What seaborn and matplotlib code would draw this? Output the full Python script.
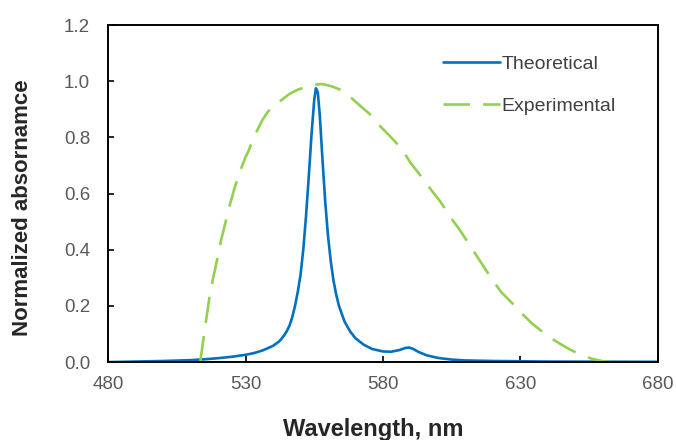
import pandas as pd
import matplotlib
matplotlib.use('Agg')
import matplotlib.pyplot as plt
import seaborn as sns

# --- Dados ---
theo_wl = [480, 500, 510, 515, 520, 525, 530, 533, 536, 538, 540, 542, 543, 544,
           545, 546, 547, 548, 549, 550, 551, 552, 553, 554, 555, 555.6, 556.3,
           557, 558, 559, 560, 561, 562, 563, 564, 566, 568, 570, 573, 576, 580,
           583, 586, 588, 589.5, 591, 593, 596, 600, 605, 610, 620, 640, 680]
theo_abs = [0.0, 0.004, 0.007, 0.010, 0.014, 0.019, 0.026, 0.032, 0.041, 0.049,
            0.058, 0.072, 0.082, 0.095, 0.110, 0.130, 0.160, 0.200, 0.250, 0.310,
            0.400, 0.520, 0.660, 0.810, 0.935, 0.975, 0.960, 0.880, 0.720, 0.570,
            0.450, 0.360, 0.290, 0.240, 0.200, 0.145, 0.110, 0.085, 0.062, 0.047,
            0.038, 0.037, 0.043, 0.050, 0.052, 0.047, 0.036, 0.024, 0.015, 0.009,
            0.006, 0.004, 0.002, 0.001]

exp_wl = [513.5, 514.5, 515.5, 517, 518, 520, 521, 523, 524, 526, 527, 528, 530,
          531, 533, 534, 536, 538, 540, 542, 544, 546, 549, 552, 555, 558, 561,
          565, 568, 572, 575, 579, 583, 587, 590, 594, 597, 601, 605, 608, 612,
          616, 620, 623, 627, 630, 634, 638, 642, 645, 648, 652, 656, 660, 663,
          671]
exp_abs = [0.0, 0.07, 0.14, 0.24, 0.29, 0.38, 0.43, 0.51, 0.55, 0.62, 0.65, 0.68,
           0.73, 0.75, 0.80, 0.82, 0.86, 0.89, 0.91, 0.925, 0.94, 0.955, 0.97,
           0.98, 0.988, 0.99, 0.983, 0.968, 0.945, 0.91, 0.885, 0.84, 0.80, 0.757,
           0.71, 0.66, 0.62, 0.57, 0.51, 0.47, 0.41, 0.35, 0.29, 0.25, 0.21,
           0.178, 0.14, 0.108, 0.08, 0.062, 0.045, 0.027, 0.012, 0.003, 0.0, 0.0]

df_theo = pd.DataFrame({'Wavelength': theo_wl, 'Abs': theo_abs})
df_exp = pd.DataFrame({'Wavelength': exp_wl, 'Abs': exp_abs})

x_ticks = [480, 530, 580, 630, 680]
y_ticks = [0.0, 0.2, 0.4, 0.6, 0.8, 1.0, 1.2]

sns.set_style('ticks')
plt.rcParams['font.family'] = ['Liberation Sans', 'DejaVu Sans']

fig = plt.figure(figsize=(6.76, 4.40), dpi=100)
ax = fig.add_axes([0.160, 0.177, 0.813, 0.766])

sns.lineplot(data=df_theo, x='Wavelength', y='Abs', ax=ax, color='#0070C0',
             linewidth=1.9, label='Theoretical', sort=False)
sns.lineplot(data=df_exp, x='Wavelength', y='Abs', ax=ax, color='#92D050',
             linewidth=1.9, label='Experimental', sort=False)
ax.lines[1].set_dashes((10, 5))

ax.set_xlim(480, 680)
ax.set_ylim(0, 1.2)
ax.set_xticks(x_ticks)
ax.set_yticks(y_ticks)
ax.set_yticklabels([f'{v:.1f}' for v in y_ticks])

for s in ax.spines.values():
    s.set_visible(True)
    s.set_color('black')
    s.set_linewidth(1.4)

ax.tick_params(axis='both', direction='in', length=4, width=1.2,
               colors='black', labelcolor='#595959', labelsize=13.5)
ax.tick_params(axis='x', pad=10)
ax.tick_params(axis='y', pad=13)

ax.set_xlabel('Wavelength, nm', fontsize=17, fontweight='bold')
ax.set_ylabel('Normalized absornamce', fontsize=16, fontweight='bold')
ax.xaxis.set_label_coords(0.482, -0.166)
ax.yaxis.set_label_coords(-0.136, 0.457)

leg = ax.legend(loc='upper left', bbox_to_anchor=(0.578, 0.962), frameon=False,
                fontsize=14, handlelength=2.9, handletextpad=0.1,
                labelspacing=1.25)
for t in leg.get_texts():
    t.set_color('#404040')
for h in leg.get_lines():
    h.set_linewidth(1.9)
leg.get_lines()[1].set_dashes((10, 5))

plt.savefig('out.png', dpi=100)
